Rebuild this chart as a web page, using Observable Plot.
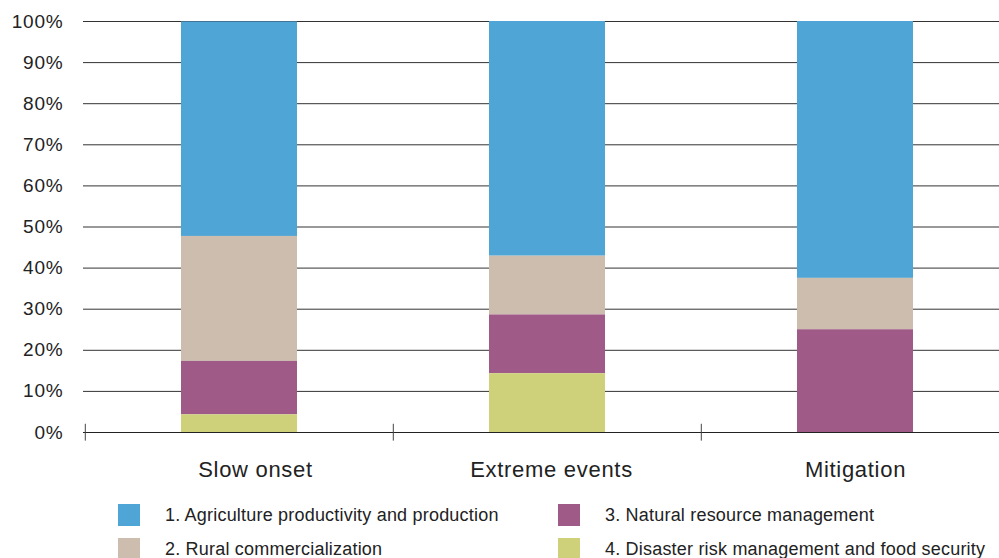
<!DOCTYPE html>
<html>
<head>
<meta charset="utf-8">
<script src="https://cdn.jsdelivr.net/npm/d3@7"></script>
<script src="https://cdn.jsdelivr.net/npm/@observablehq/plot@0.6"></script>
<style>
  html, body { margin: 0; padding: 0; background: #fff; overflow: hidden; }
  body { width: 999px; height: 558px; position: relative; font-family: "Liberation Sans", Arial, sans-serif; }
  #legend { position: absolute; left: 0; top: 0; width: 999px; }
  .item { position: absolute; display: flex; align-items: center; font-size: 18px; letter-spacing: 0.2px; color: #222; white-space: nowrap; }
  .sw { width: 22px; height: 22px; margin-right: 25px; }
  .yax text { letter-spacing: 0.8px; }
  .xlab text { letter-spacing: 0.7px; }
</style>
</head>
<body>
<div id="chart"></div>
<div id="legend"></div>
<script>
const categories = ["Slow onset", "Extreme events", "Mitigation"];
const series = [
  "1. Agriculture productivity and production",
  "2. Rural commercialization",
  "3. Natural resource management",
  "4. Disaster risk management and food security"
];
const colors = ["#4FA5D6", "#CDBDAF", "#A05A88", "#CFD07A"];
// percentage share per category, in series order 1..4
const agriculture = [52.2, 57.1, 62.5];
const rural = [30.4, 14.3, 12.5];
const naturalResource = [13.0, 14.3, 25.0];
const disasterRisk = [4.3, 14.3, 0];
const yTicks = [0, 10, 20, 30, 40, 50, 60, 70, 80, 90, 100];

const valuesBySeries = [agriculture, rural, naturalResource, disasterRisk];
const data = [];
categories.forEach((c, i) => {
  series.forEach((s, j) => data.push({category: c, series: s, value: valuesBySeries[j][i]}));
});
const stackOrder = [series[3], series[2], series[1], series[0]];

const labelStyle = {x: d => d, frameAnchor: "bottom", lineAnchor: "top", dy: 29, fontSize: 22, fill: "#222", className: "xlab"};

const chart = Plot.plot({
  width: 999,
  height: 490,
  marginTop: 21,
  marginBottom: 58,
  marginLeft: 83,
  marginRight: 0,
  style: {fontFamily: "Liberation Sans, Arial, sans-serif", color: "#222", background: "#fff"},
  x: {domain: categories, range: [84, 1009], paddingInner: 0.625, paddingOuter: 0.3125, label: null, axis: null},
  y: {domain: [0, 100], label: null},
  color: {domain: series, range: colors},
  marks: [
    Plot.ruleY(yTicks, {stroke: "#333", strokeWidth: 1}),
    Plot.barY(data, Plot.stackY({order: stackOrder}, {x: "category", y: "value", fill: "series", z: "series"})),
    Plot.ruleY([0], {stroke: "#222", strokeWidth: 1.2}),
    Plot.ruleX(categories, {x: d => d, dx: -154.2, y1: -2.1, y2: 2, stroke: "#444", strokeWidth: 1}),
    Plot.axisY({ticks: yTicks, tickSize: 0, tickPadding: 20, tickFormat: d => d + "%", fontSize: 19, fill: "#222", className: "yax"}),
    Plot.text([categories[0]], {...labelStyle, dx: 16}),
    Plot.text([categories[1]], {...labelStyle, dx: 4}),
    Plot.text([categories[2]], {...labelStyle, dx: 0})
  ]
});
document.getElementById("chart").appendChild(chart);

const legend = document.getElementById("legend");
const positions = [
  {left: 118, top: 504}, {left: 118, top: 538},
  {left: 558, top: 504}, {left: 558, top: 538}
];
series.forEach((s, i) => {
  const it = document.createElement("div");
  it.className = "item";
  it.style.left = positions[i].left + "px";
  it.style.top = positions[i].top + "px";
  const sw = document.createElement("span");
  sw.className = "sw";
  sw.style.background = colors[i];
  const t = document.createElement("span");
  t.textContent = s;
  it.appendChild(sw); it.appendChild(t);
  legend.appendChild(it);
});
</script>
</body>
</html>
